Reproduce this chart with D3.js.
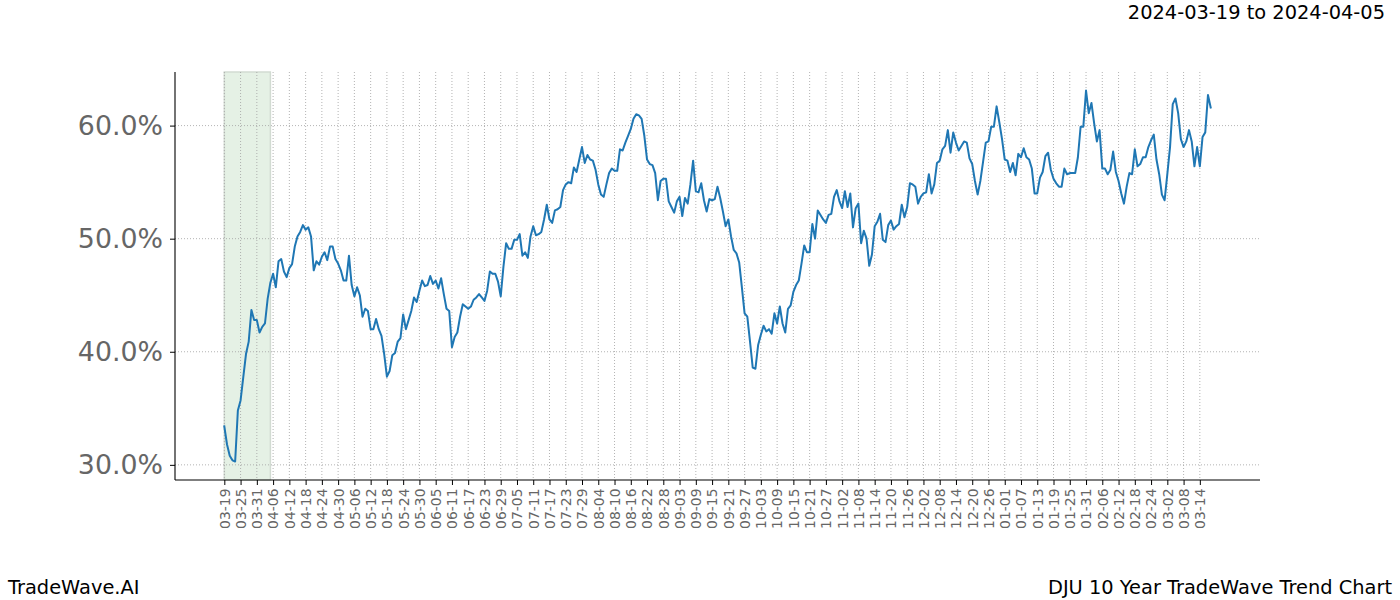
<!DOCTYPE html>
<html>
<head>
<meta charset="utf-8">
<script src="https://cdn.jsdelivr.net/npm/d3@7"></script>
<style>
  html, body { margin: 0; padding: 0; background: #fff; }
  svg { display: block; font-family: "DejaVu Sans", sans-serif; }
</style>
</head>
<body>
<svg id="chart" width="1400" height="600"></svg>
<script>
// ---- Data ----
const startDate = "2024-03-19";
const highlightStart = "2024-03-19";
const highlightEnd = "2024-04-05";
const titleText = "2024-03-19 to 2024-04-05";
const brandText = "TradeWave.AI";
const chartName = "DJU 10 Year TradeWave Trend Chart";

// daily values (percent), one per calendar day starting at startDate
const values = [
  33.4, 31.8, 30.8, 30.4, 30.3, 34.8, 35.7, 37.75, 39.8, 40.9,
  43.7, 42.8, 42.8, 41.7, 42.2, 42.5, 44.7, 46.1, 46.9, 45.7,
  48.0, 48.2, 47.1, 46.6, 47.4, 47.75, 49.3, 50.2, 50.6, 51.2,
  50.8, 51.0, 50.2, 47.2, 48.0, 47.7, 48.4, 48.8, 48.1, 49.3,
  49.3, 48.2, 47.8, 47.2, 46.3, 46.3, 48.5, 45.9, 44.9, 45.7,
  45.0, 43.1, 43.8, 43.6, 42.0, 42.0, 42.9, 42.0, 41.4, 39.8,
  37.8, 38.3, 39.7, 39.9, 40.9, 41.2, 43.3, 42.0, 42.8, 43.6,
  44.8, 44.4, 45.4, 46.3, 45.8, 45.9, 46.7, 46.0, 46.3, 45.6,
  46.5, 45.1, 43.8, 43.6, 40.4, 41.3, 41.7, 43.1, 44.2, 44.0,
  43.8, 44.0, 44.6, 44.8, 45.1, 44.8, 44.5, 45.4, 47.1, 46.9,
  46.9, 46.2, 44.9, 47.5, 49.6, 49.1, 49.1, 49.9, 49.9, 50.4,
  48.5, 48.8, 48.3, 50.2, 51.1, 50.3, 50.4, 50.6, 51.7, 53.0,
  51.7, 51.4, 52.5, 52.6, 52.8, 54.3, 54.8, 55.0, 54.9, 56.3,
  55.9, 57.0, 58.1, 56.7, 57.4, 57.0, 56.9, 56.1, 54.8, 53.9,
  53.7, 54.8, 55.8, 56.2, 56.0, 56.0, 57.9, 57.8, 58.5, 59.1,
  59.7, 60.6, 61.0, 60.9, 60.6, 59.1, 57.0, 56.6, 56.5, 55.8,
  53.4, 55.1, 55.3, 55.3, 53.3, 52.8, 52.3, 53.3, 53.7, 52.0,
  53.6, 53.1, 54.8, 56.9, 54.2, 54.1, 54.9, 53.4, 52.4, 53.5,
  53.4, 53.5, 54.6, 53.6, 52.4, 51.1, 51.7, 50.2, 49.0, 48.7,
  47.9, 45.7, 43.4, 43.1, 40.9, 38.6, 38.5, 40.6, 41.5, 42.3,
  41.8, 42.0, 41.6, 43.4, 42.5, 44.0, 42.5, 41.7, 43.8, 44.1,
  45.3, 45.9, 46.3, 47.8, 49.4, 48.8, 48.8, 51.3, 50.0, 52.5,
  52.1, 51.7, 51.4, 52.1, 52.2, 53.7, 54.3, 53.3, 52.7, 54.2,
  52.8, 54.0, 51.0, 52.7, 53.1, 49.6, 50.7, 50.0, 47.6, 48.6,
  51.1, 51.5, 52.2, 49.9, 49.7, 51.2, 51.6, 50.8, 51.1, 51.3,
  53.0, 51.9, 52.8, 54.9, 54.8, 54.6, 53.1, 53.7, 54.0, 54.1,
  55.7, 54.0, 54.8, 56.7, 56.9, 57.9, 58.2, 59.6, 57.6, 59.4,
  58.5, 57.8, 58.2, 58.6, 58.5, 57.1, 56.6, 55.1, 53.9, 55.1,
  56.8, 58.5, 58.6, 59.9, 59.9, 61.7, 60.3, 58.8, 57.0, 56.9,
  55.9, 56.7, 55.6, 57.5, 57.2, 58.0, 57.2, 57.0, 56.2, 54.0,
  54.0, 55.4, 55.9, 57.3, 57.6, 56.1, 55.3, 54.9, 54.6, 54.6,
  56.2, 55.7, 55.8, 55.8, 55.8, 57.2, 59.9, 59.9, 63.1, 61.1,
  62.0, 60.2, 58.6, 59.6, 56.2, 56.2, 55.7, 56.1, 57.7, 55.9,
  55.1, 54.0, 53.1, 54.6, 55.8, 55.7, 57.9, 56.4, 56.6, 57.2,
  57.2, 58.1, 58.7, 59.2, 57.0, 55.7, 53.9, 53.4, 55.7, 58.1,
  61.9, 62.4, 61.1, 58.8, 58.1, 58.6, 59.6, 58.6, 56.4, 58.1,
  56.4, 59.0, 59.4, 62.7, 61.6
];

const tickLabels = [
  "03-19","03-25","03-31","04-06","04-12","04-18","04-24","04-30","05-06","05-12",
  "05-18","05-24","05-30","06-05","06-11","06-17","06-23","06-29","07-05","07-11",
  "07-17","07-23","07-29","08-04","08-10","08-16","08-22","08-28","09-03","09-09",
  "09-15","09-21","09-27","10-03","10-09","10-15","10-21","10-27","11-02","11-08",
  "11-14","11-20","11-26","12-02","12-08","12-14","12-20","12-26","01-01","01-07",
  "01-13","01-19","01-25","01-31","02-06","02-12","02-18","02-24","03-02","03-08",
  "03-14"
];
const yTickValues = [30, 40, 50, 60];

// ---- Build ----
const parse = d3.utcParse("%Y-%m-%d");
const start = parse(startDate);
const data = values.map((v, i) => ({ date: d3.utcDay.offset(start, i), value: v }));
const tickDates = tickLabels.map((_, i) => d3.utcDay.offset(start, 6 * i));

const M = { left: 175, right: 1260, top: 72, bottom: 480 };
const svg = d3.select("#chart");

const firstDate = data[0].date, lastDate = data[data.length - 1].date;
const spanMs = lastDate - firstDate;
const x = d3.scaleUtc()
  .domain([new Date(+firstDate - spanMs * 0.05), new Date(+lastDate + spanMs * 0.05)])
  .range([M.left, M.right]);

const yMin = d3.min(values), yMax = d3.max(values);
const yPad = (yMax - yMin) * 0.05;
const y = d3.scaleLinear().domain([yMin - yPad, yMax + yPad]).range([M.bottom, M.top]);

// highlight span
const hs = parse(highlightStart), he = parse(highlightEnd);
svg.append("rect")
  .attr("x", x(hs)).attr("y", M.top)
  .attr("width", x(he) - x(hs)).attr("height", M.bottom - M.top)
  .attr("fill", "#e5f1e5")
  .attr("stroke", "#d2dbd2").attr("stroke-width", 1.5);

// grid
const grid = svg.append("g");
grid.selectAll("line.vg").data(tickDates).join("line")
  .attr("x1", d => x(d)).attr("x2", d => x(d))
  .attr("y1", M.top).attr("y2", M.bottom)
  .attr("stroke", "#a0a0a0").attr("stroke-width", 0.8).attr("stroke-dasharray", "1,2");
grid.selectAll("line.hg").data(yTickValues).join("line")
  .attr("x1", M.left).attr("x2", M.right)
  .attr("y1", d => y(d)).attr("y2", d => y(d))
  .attr("stroke", "#a0a0a0").attr("stroke-width", 0.8).attr("stroke-dasharray", "1,2");

// line
const line = d3.line().x(d => x(d.date)).y(d => y(d.value));
svg.append("path").datum(data)
  .attr("d", line)
  .attr("fill", "none")
  .attr("stroke", "#1f77b4")
  .attr("stroke-width", 2)
  .attr("stroke-linejoin", "round")
  .attr("stroke-linecap", "square");

// x axis
const xAxis = d3.axisBottom(x)
  .tickValues(tickDates)
  .tickFormat((d, i) => tickLabels[i])
  .tickSizeOuter(0)
  .tickSize(5)
  .tickPadding(3.5);
const gx = svg.append("g").attr("transform", `translate(0,${M.bottom})`).call(xAxis);
gx.select(".domain").remove();
gx.selectAll(".tick line").attr("stroke", "#000").attr("stroke-width", 1);
gx.selectAll(".tick text")
  .attr("fill", "#666")
  .style("font-size", "13.9px")
  .style("font-family", "DejaVu Sans")
  .attr("text-anchor", "end")
  .attr("dy", "0.35em")
  .attr("transform", "translate(0,8.5) rotate(-90)")
  .attr("x", 0).attr("y", 0);

// y axis
const yAxis = d3.axisLeft(y)
  .tickValues(yTickValues)
  .tickFormat(d => d.toFixed(1) + "%")
  .tickSizeOuter(0)
  .tickSize(5)
  .tickPadding(7);
const gy = svg.append("g").attr("transform", `translate(${M.left},0)`).call(yAxis);
gy.select(".domain").remove();
gy.selectAll(".tick line").attr("stroke", "#000").attr("stroke-width", 1);
gy.selectAll(".tick text")
  .attr("fill", "#666")
  .style("font-size", "26.8px")
  .style("font-family", "DejaVu Sans");

// spines
svg.append("line").attr("x1", M.left).attr("x2", M.left).attr("y1", M.top).attr("y2", M.bottom)
  .attr("stroke", "#000").attr("stroke-width", 1.1);
svg.append("line").attr("x1", M.left).attr("x2", M.right).attr("y1", M.bottom).attr("y2", M.bottom)
  .attr("stroke", "#000").attr("stroke-width", 1.1);

// texts
svg.append("text").attr("x", 1385).attr("y", 19).attr("text-anchor", "end")
  .style("font-size", "19.4px").attr("fill", "#000").text(titleText);
svg.append("text").attr("x", 8).attr("y", 594).attr("text-anchor", "start")
  .style("font-size", "19.4px").attr("fill", "#000").text(brandText);
svg.append("text").attr("x", 1392).attr("y", 594).attr("text-anchor", "end")
  .style("font-size", "19.4px").attr("fill", "#000").text(chartName);
</script>
</body>
</html>
